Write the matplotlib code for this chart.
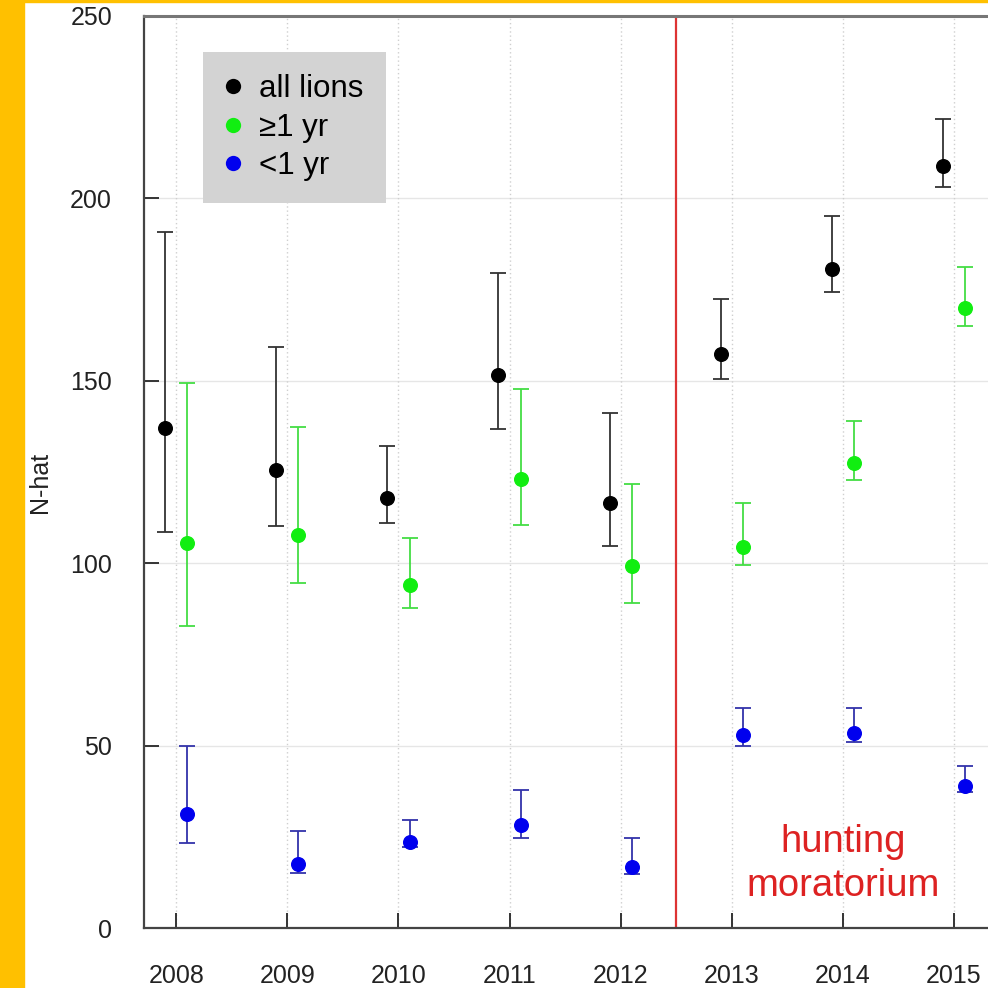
import matplotlib
matplotlib.use("Agg")
import matplotlib.pyplot as plt
from matplotlib.lines import Line2D
from matplotlib.patches import Rectangle
import numpy as np

plt.rcParams['font.family'] = ['Liberation Sans', 'DejaVu Sans']

years = [2008, 2009, 2010, 2011, 2012, 2013, 2014, 2015]

# population estimates with lower / upper bounds
all_mid = [137.0, 125.5, 118.0, 151.6, 116.4, 157.3, 180.6, 209.0]
all_lo = [108.5, 110.3, 111.1, 136.7, 104.8, 150.5, 174.4, 203.0]
all_hi = [190.8, 159.2, 132.2, 179.6, 141.1, 172.4, 195.2, 221.8]

adult_mid = [105.6, 107.7, 94.0, 123.1, 99.3, 104.5, 127.6, 169.9]
adult_lo = [82.9, 94.7, 87.8, 110.5, 89.0, 99.5, 122.8, 165.0]
adult_hi = [149.5, 137.4, 107.0, 147.7, 121.6, 116.4, 139.0, 181.1]

cub_mid = [31.2, 17.5, 23.7, 28.2, 16.8, 52.9, 53.4, 38.9]
cub_lo = [23.4, 15.0, 22.3, 24.8, 14.8, 50.0, 50.9, 37.2]
cub_hi = [49.9, 26.6, 29.6, 37.8, 24.6, 60.2, 60.2, 44.4]

series_labels = ['all lions', '\u22651 yr', '<1 yr']
yticks = [0, 50, 100, 150, 200, 250]
moratorium_start = 2012.5

W = 988
fig = plt.figure(figsize=(9.88, 9.88), dpi=100)
ax = fig.add_axes([144 / W, 60 / W, (989.5 - 144) / W, (928 - 16) / W])

x = np.array(years, dtype=float)


def plot_series(xpos, mid, lo, hi, color, ecolor):
    mid = np.array(mid)
    yerr = [mid - np.array(lo), np.array(hi) - mid]
    ax.errorbar(xpos, mid, yerr=yerr, fmt='o', color=color, ecolor=ecolor,
                markersize=9.8, markeredgecolor=color, elinewidth=1.3,
                capsize=6, capthick=1.3, zorder=3)


plot_series(x - 0.1, all_mid, all_lo, all_hi, '#000000', '#333333')
plot_series(x + 0.1, adult_mid, adult_lo, adult_hi, '#11ee11', '#44dd44')
plot_series(x + 0.1, cub_mid, cub_lo, cub_hi, '#0000ee', '#3333aa')

ax.axvline(moratorium_start, color='#dd3333', lw=1.6, zorder=2)
ax.text(2014.0, 17.6, 'hunting\nmoratorium', color='#dd2222', fontsize=27.5,
        ha='center', va='center', linespacing=1.28)

ax.set_xlim(2007.71, 2015.32)
ax.set_ylim(0, 250)
ax.set_xticks(years)
ax.set_yticks(yticks)

for yy in yticks[1:-1]:
    ax.axhline(yy, color='#e6e6e6', lw=1.0, zorder=0)
for xx in years:
    ax.axvline(xx, color='#cfcfcf', lw=1.0, ls=(0, (1, 2)), zorder=0)

ax.tick_params(axis='both', direction='in', length=11, width=1.4,
               color='#333333', labelsize=18, labelcolor='#222222')
ax.tick_params(axis='x', pad=26)
ax.tick_params(axis='y', pad=23)
for s in ax.spines.values():
    s.set_color('#444444')
    s.set_linewidth(1.6)
ax.spines['top'].set_color('#777777')
ax.spines['top'].set_linewidth(2.2)

fig.text(40 / W, 1 - 482 / W, 'N-hat', rotation=90, fontsize=18,
         ha='center', va='center', color='#222222')

handles = [Line2D([0], [0], marker='o', ls='none', color=c, markersize=11,
                  markeredgewidth=0)
           for c in ['#000000', '#11ee11', '#0000ee']]
ax.legend(handles, series_labels, loc='upper left',
          bbox_to_anchor=(203 / W, 1 - 52 / W), bbox_transform=fig.transFigure,
          frameon=True, fancybox=False, facecolor='#d3d3d3', edgecolor='none',
          framealpha=1, fontsize=22.5, handlelength=0.55, handletextpad=0.55,
          labelspacing=0.28, borderpad=0.7, borderaxespad=0)

# yellow frame strips along the left and top edges
fig.patches.append(Rectangle((0, 0), 24 / W, 1, transform=fig.transFigure,
                             color='#ffc000', zorder=10))
fig.patches.append(Rectangle((0, 1 - 2.5 / W), 1, 2.5 / W,
                             transform=fig.transFigure, color='#ffc000', zorder=10))

fig.savefig('out.png', dpi=100)
